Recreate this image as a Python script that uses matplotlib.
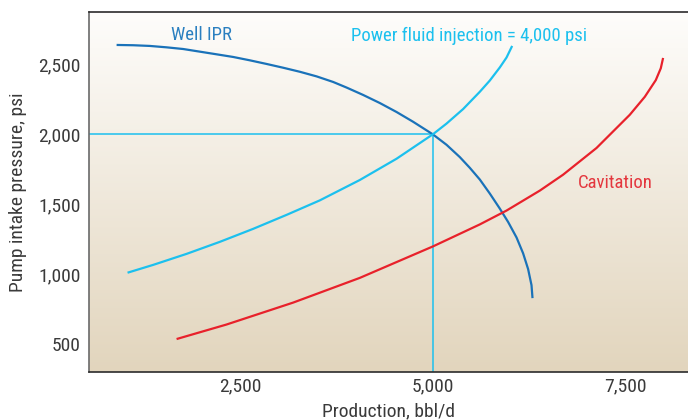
import matplotlib.pyplot as plt
import matplotlib.ticker as mticker
from matplotlib import font_manager
import numpy as np

# pick a condensed face if one is installed
installed = {f.name for f in font_manager.fontManager.ttflist}
face = 'DejaVu Sans'
for cand in ['Roboto Condensed', 'Liberation Sans Narrow', 'Open Sans Condensed',
             'Noto Sans Condensed', 'DejaVu Sans Condensed', 'Roboto']:
    if cand in installed:
        face = cand
        break
plt.rcParams['font.family'] = [face, 'DejaVu Sans']

# Well inflow performance (bbl/d, psi)
ipr_q = [898, 1113, 1329, 1546, 1761, 1978, 2195, 2410, 2626, 2843, 3058,
         3275, 3492, 3707, 3881, 4096, 4313, 4529, 4744, 5000, 5178, 5350,
         5480, 5610, 5739, 5869, 5977, 6086, 6171, 6236, 6280, 6293]
ipr_p = [2640, 2638, 2633, 2623, 2611, 2592, 2573, 2554, 2530, 2504, 2477,
         2448, 2415, 2375, 2335, 2282, 2224, 2160, 2090, 2000, 1925, 1837,
         1760, 1676, 1576, 1468, 1372, 1261, 1148, 1035, 920, 827]

# Power fluid injection = 4,000 psi
pf_q = [1040, 1372, 1806, 2237, 2669, 3102, 3534, 4053, 4529, 5000, 5178,
        5393, 5610, 5739, 5869, 5956, 6029]
pf_p = [1009, 1065, 1144, 1230, 1323, 1423, 1527, 1673, 1825, 2000, 2077,
        2181, 2305, 2385, 2479, 2550, 2633]

# Cavitation limit
cav_q = [1676, 2324, 3188, 4053, 5004, 5610, 5956, 6388, 6690, 7123, 7555,
         7750, 7892, 7957, 7987]
cav_p = [534, 638, 795, 972, 1198, 1355, 1454, 1597, 1711, 1902, 2140,
         2269, 2388, 2473, 2547]

op_q, op_p = 5000, 2000
x_ticks = [2500, 5000, 7500]
y_ticks = [500, 1000, 1500, 2000, 2500]

dark_blue = '#1a72b9'
light_blue = '#1cc0ee'
red = '#e8212b'
text_col = '#3a3a3a'
fs = 14
fs_note = 13.5

fig = plt.figure(figsize=(6.88, 4.2), dpi=100)
ax = fig.add_axes([89 / 688, 48 / 420, 599 / 688, 360 / 420])

xmin, xmax = 540, 8310
ymin, ymax = 298, 2876
ax.set_xlim(xmin, xmax)
ax.set_ylim(ymin, ymax)

# vertical gradient background
top = np.array([0.995, 0.992, 0.985])
bot = np.array([0.886, 0.835, 0.741])
t = np.linspace(0, 1, 256)[:, None]
grad = (top * (1 - t) + bot * t)[:, None, :]
ax.imshow(grad, extent=[0, 1, 0, 1], transform=ax.transAxes, aspect='auto',
          zorder=0, interpolation='bilinear')

# operating point guides
ax.plot([xmin, op_q], [op_p, op_p], color=light_blue, lw=1.1, zorder=2)
ax.plot([op_q, op_q], [ymin, op_p], color=light_blue, lw=1.1, zorder=2)

ax.plot(ipr_q, ipr_p, color=dark_blue, lw=1.6, zorder=3,
        solid_capstyle='butt', solid_joinstyle='round')
ax.plot(pf_q, pf_p, color=light_blue, lw=1.6, zorder=3,
        solid_capstyle='butt', solid_joinstyle='round')
ax.plot(cav_q, cav_p, color=red, lw=1.6, zorder=3,
        solid_capstyle='butt', solid_joinstyle='round')

ax.text(2004, 2711, 'Well IPR', color='#2a7fc0', fontsize=fs_note,
        ha='center', va='center')
ax.text(5473, 2708, 'Power fluid injection = 4,000 psi', color=light_blue,
        fontsize=fs_note, ha='center', va='center')
ax.text(7361, 1648, 'Cavitation', color='#e4373e', fontsize=fs_note,
        ha='center', va='center')

ax.set_xticks(x_ticks)
ax.set_yticks(y_ticks)
fmt = mticker.FuncFormatter(lambda v, p: f'{int(v):,}')
ax.xaxis.set_major_formatter(fmt)
ax.yaxis.set_major_formatter(fmt)
ax.tick_params(length=0, labelsize=fs, labelcolor=text_col)
ax.tick_params(axis='y', pad=6)
ax.tick_params(axis='x', pad=4)

ax.set_xlabel('Production, bbl/d', fontsize=fs, color=text_col)
ax.set_ylabel('Pump intake pressure, psi', fontsize=fs, color=text_col)
ax.xaxis.set_label_coords(0.5, -0.083)
ax.yaxis.set_label_coords(-0.1035, 0.5)

for side in ['left', 'bottom', 'top']:
    ax.spines[side].set_color('#2b2b2b')
    ax.spines[side].set_linewidth(1.2)
ax.spines['left'].set_color('#6a6a6a')
ax.spines['right'].set_visible(False)

fig.savefig('out.png', dpi=100)
